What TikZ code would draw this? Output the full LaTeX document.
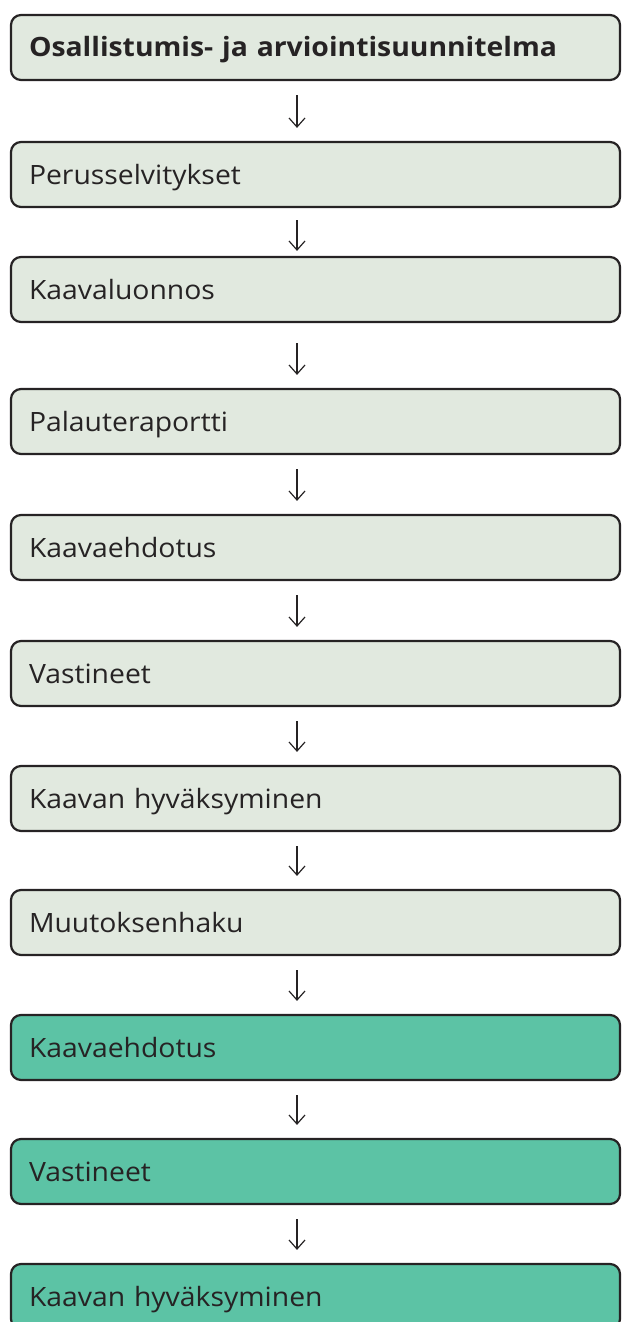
\documentclass[tikz,border=0pt]{standalone}
\usepackage{fontspec}
\setmainfont{Open Sans}[FakeStretch=1.065]
\usetikzlibrary{arrows.meta}
\usetikzlibrary{positioning}
\definecolor{paleGreen}{HTML}{E1E9DF}
\definecolor{seaGreen}{HTML}{5CC3A5}
\definecolor{inkGray}{HTML}{262324}
\tikzset{stage/.style={draw=inkGray, line width=2.2pt, rounded corners=10pt, fill=paleGreen,
    text=inkGray, minimum width=609pt, minimum height=65pt, inner xsep=18pt, inner ysep=0pt,
    text width=573pt, align=left, text height=19pt, text depth=0pt,
    font=\fontsize{26.6pt}{29pt}\selectfont}}
\tikzset{later/.style={stage, fill=seaGreen}}
\tikzset{flow/.style={draw=inkGray, line width=1.2pt, -{Straight Barb[length=9pt,width=16pt]},
    shorten <=14pt, shorten >=13pt}}

\begin{document}
\begin{tikzpicture}[x=1pt,y=1pt]
\clip (0,0) rectangle (621,-1322);
\node[stage] (s1) at (315.5,-47.5) {\bfseries Osallistumis- ja arviointisuunnitelma};
\node[stage] (s2) at (315.5,-174.5) {Perusselvitykset};
\node[stage] (s3) at (315.5,-289.5) {Kaavaluonnos};
\node[stage] (s4) at (315.5,-421.5) {Palauteraportti};
\node[stage] (s5) at (315.5,-547.5) {Kaavaehdotus};
\node[stage] (s6) at (315.5,-673.5) {Vastineet};
\node[stage] (s7) at (315.5,-798.5) {Kaavan hyväksyminen};
\node[stage] (s8) at (315.5,-922.5) {Muutoksenhaku};
\node[later] (s9) at (315.5,-1047.5) {Kaavaehdotus};
\node[later] (s10) at (315.5,-1171.5) {Vastineet};
\node[later] (s11) at (315.5,-1296.5) {Kaavan hyväksyminen};
% arrows
\path[flow] ([xshift=-18.5pt]s1.south) -- ([xshift=-18.5pt]s2.north);
\path[flow, shorten <=12pt, shorten >=5pt] ([xshift=-18.5pt]s2.south) -- ([xshift=-18.5pt]s3.north);
\path[flow, shorten <=20pt] ([xshift=-18.5pt]s3.south) -- ([xshift=-18.5pt]s4.north);
\path[flow] ([xshift=-18.5pt]s4.south) -- ([xshift=-18.5pt]s5.north);
\path[flow] ([xshift=-18.5pt]s5.south) -- ([xshift=-18.5pt]s6.north);
\path[flow] ([xshift=-18.5pt]s6.south) -- ([xshift=-18.5pt]s7.north);
\path[flow] ([xshift=-18.5pt]s7.south) -- ([xshift=-18.5pt]s8.north);
\path[flow] ([xshift=-18.5pt]s8.south) -- ([xshift=-18.5pt]s9.north);
\path[flow] ([xshift=-18.5pt]s9.south) -- ([xshift=-18.5pt]s10.north);
\path[flow] ([xshift=-18.5pt]s10.south) -- ([xshift=-18.5pt]s11.north);
\end{tikzpicture}
\end{document}
